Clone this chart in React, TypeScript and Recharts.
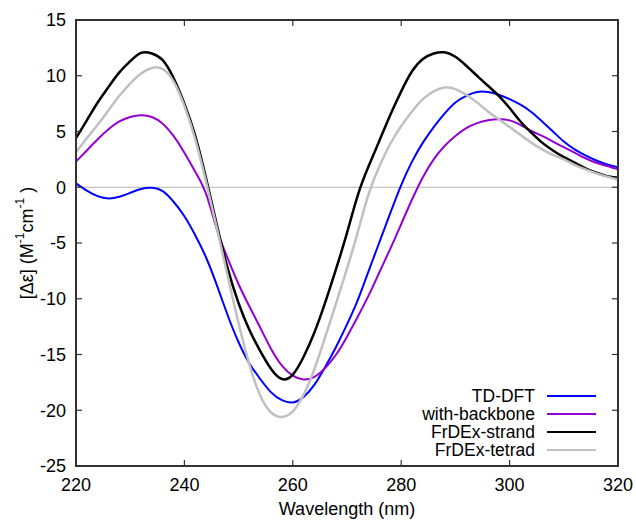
import React from 'react'
import {
  LineChart,
  Line,
  XAxis,
  YAxis,
  ReferenceLine,
  Legend,
} from 'recharts'

// wavelength grid (nm)
const wavelength = [
  220, 222, 224, 226, 228, 230, 232, 234, 236, 238, 240, 242, 244, 246, 248, 250, 252,
  254, 256, 258, 260, 262, 264, 266, 268, 270, 272, 274, 276, 278, 280, 282, 284, 286,
  288, 290, 292, 294, 296, 298, 300, 302, 304, 306, 308, 310, 312, 314, 316, 318, 320,
]

const tdDft = [
  0.35, -0.3, -0.8, -1.0, -0.85, -0.5, -0.15, -0.05, -0.35, -1.3, -2.6, -4.3, -6.3, -8.8,
  -11.5, -13.9, -15.8, -17.2, -18.4, -19.1, -19.3, -18.8, -17.7, -16.1, -14.3, -12.3,
  -10.1, -7.5, -4.9, -2.3, 0.2, 2.3, 4.0, 5.4, 6.6, 7.6, 8.2, 8.55, 8.55, 8.3, 7.9, 7.4,
  6.75, 5.9, 5.0, 4.1, 3.4, 2.85, 2.4, 2.05, 1.8,
]

const withBackbone = [
  2.3, 3.3, 4.3, 5.2, 5.9, 6.3, 6.45, 6.3, 5.7, 4.6, 3.1, 1.4, -0.6, -3.8, -6.4, -8.7,
  -10.7, -12.6, -14.5, -16.0, -16.9, -17.25, -17.0, -16.2, -15.0, -13.4, -11.6, -9.7,
  -7.6, -5.5, -3.3, -1.1, 0.9, 2.5, 3.7, 4.6, 5.3, 5.75, 6.0, 6.1, 6.0, 5.6, 5.05, 4.6,
  4.1, 3.6, 3.1, 2.6, 2.2, 1.9, 1.6,
]

const frdexStrand = [
  4.4, 6.0, 7.6, 9.0, 10.3, 11.3, 12.05, 12.0, 11.4, 9.8, 7.5, 4.6, 0.8, -3.4, -7.3,
  -10.4, -12.8, -14.7, -16.3, -17.2, -16.8, -15.2, -13.0, -10.3, -7.3, -4.1, -0.7, 1.9,
  4.2, 6.5, 8.6, 10.4, 11.5, 12.0, 12.1, 11.7, 10.9, 10.0, 9.1, 8.2, 7.1, 5.9, 4.9, 4.0,
  3.3, 2.7, 2.2, 1.7, 1.3, 1.0, 0.85,
]

const frdexTetrad = [
  3.15, 4.4, 5.6, 6.9, 8.2, 9.3, 10.2, 10.7, 10.6, 9.5, 7.3, 4.3, 0.5, -3.7, -8.0, -12.2,
  -15.9, -18.7, -20.2, -20.6, -20.1, -18.6, -16.3, -13.4, -10.4, -7.3, -4.0, -0.6, 1.9,
  3.9, 5.5, 6.8, 7.9, 8.6, 8.95, 8.8, 8.3, 7.6, 6.8, 6.1, 5.4, 4.7, 4.0, 3.4, 2.9, 2.5,
  2.0, 1.6, 1.25, 0.95, 0.7,
]

const xTicks = [220, 240, 260, 280, 300, 320]
const yTicks = [-25, -20, -15, -10, -5, 0, 5, 10, 15]
const X_MIN = 220
const X_MAX = 320
const Y_MIN = -25
const Y_MAX = 15

const series = [
  { key: 'tdDft', name: 'TD-DFT', color: '#0000ff', width: 2 },
  { key: 'withBackbone', name: 'with-backbone', color: '#9400d3', width: 2 },
  { key: 'frdexStrand', name: 'FrDEx-strand', color: '#000000', width: 2.5 },
  { key: 'frdexTetrad', name: 'FrDEx-tetrad', color: '#c0c0c0', width: 2.5 },
]

const data = wavelength.map((w, i) => ({
  w,
  tdDft: tdDft[i],
  withBackbone: withBackbone[i],
  frdexStrand: frdexStrand[i],
  frdexTetrad: frdexTetrad[i],
}))

const W = 636
const H = 520
const margin = { top: 20, right: 18, left: 10, bottom: 24 }
const yAxisW = 66
const xAxisH = 30
const plotL = margin.left + yAxisW
const plotT = margin.top
const plotW = W - margin.left - margin.right - yAxisW
const plotH = H - margin.top - margin.bottom - xAxisH
const TICK = 6

const FONT = '"Liberation Sans", Arial, sans-serif'
const FRAME = '#333333'
const tickStyle = { fontSize: 18, fill: '#000', fontFamily: FONT }

const YLabel = (props: any) => {
  const vb = props.viewBox || { y: 20, height: 446 }
  const cx = 27
  const cy = vb.y + vb.height / 2
  return (
    <text
      x={cx}
      y={cy}
      transform={`rotate(-90 ${cx} ${cy})`}
      textAnchor="middle"
      dominantBaseline="central"
      fontSize={18}
      fontFamily={FONT}
      fill="#000"
    >
      <tspan>[Δε] (M</tspan>
      <tspan dy={-7} fontSize={12}>-1</tspan>
      <tspan dy={7}>cm</tspan>
      <tspan dy={-7} fontSize={12}>-1</tspan>
      <tspan dy={7}> )</tspan>
    </text>
  )
}

const XLabel = (props: any) => {
  const vb = props.viewBox || { x: 76, width: 542 }
  return (
    <text
      x={vb.x + vb.width / 2}
      y={515}
      textAnchor="middle"
      fontSize={18}
      fontFamily={FONT}
      fill="#000"
    >
      Wavelength (nm)
    </text>
  )
}

const renderLegend = () => (
  <div style={{ fontFamily: FONT, fontSize: 17.5, lineHeight: '18px', color: '#000' }}>
    {series.map((s) => (
      <div key={s.key} style={{ display: 'flex', alignItems: 'center', height: 18 }}>
        <span style={{ width: 235, textAlign: 'right', whiteSpace: 'nowrap' }}>{s.name}</span>
        <span
          style={{
            display: 'inline-block',
            marginLeft: 12,
            width: 49,
            height: s.width,
            background: s.color,
          }}
        />
      </div>
    ))}
  </div>
)

// box frame (css border) plus mirrored inward ticks, gnuplot style
const Frame = () => {
  const px = (t: number) => plotL + ((t - X_MIN) / (X_MAX - X_MIN)) * plotW
  const py = (t: number) => plotT + ((Y_MAX - t) / (Y_MAX - Y_MIN)) * plotH
  const bottom = plotT + plotH
  const right = plotL + plotW
  return (
    <>
      <div
        style={{
          position: 'absolute',
          left: plotL - 1,
          top: plotT - 1,
          width: plotW + 2,
          height: plotH + 2,
          border: `2px solid ${FRAME}`,
          boxSizing: 'border-box',
          pointerEvents: 'none',
        }}
      />
      <svg
        width={W}
        height={H}
        style={{ position: 'absolute', left: 0, top: 0, pointerEvents: 'none' }}
      >
        {xTicks.map((t) => (
          <g key={`x${t}`} stroke={FRAME} strokeWidth={1.2}>
            <line x1={px(t)} x2={px(t)} y1={bottom} y2={bottom - TICK} />
            <line x1={px(t)} x2={px(t)} y1={plotT} y2={plotT + TICK} />
          </g>
        ))}
        {yTicks.map((t) => (
          <g key={`y${t}`} stroke={FRAME} strokeWidth={1.2}>
            <line x1={plotL} x2={plotL + TICK} y1={py(t)} y2={py(t)} />
            <line x1={right} x2={right - TICK} y1={py(t)} y2={py(t)} />
          </g>
        ))}
      </svg>
    </>
  )
}

export default function App() {
  return (
    <div style={{ position: 'absolute', left: 0, top: 0, width: W, height: H, background: '#fff' }}>
      <LineChart width={W} height={H} data={data} margin={margin}>
        <XAxis
          dataKey="w"
          type="number"
          domain={[X_MIN, X_MAX]}
          ticks={xTicks}
          height={xAxisH}
          stroke={FRAME}
          axisLine={{ stroke: FRAME, strokeWidth: 1.5 }}
          tickLine={false}
          tickSize={0}
          tickMargin={12}
          tick={tickStyle}
          label={{ content: XLabel }}
        />
        <YAxis
          type="number"
          domain={[Y_MIN, Y_MAX]}
          ticks={yTicks}
          width={yAxisW}
          stroke={FRAME}
          axisLine={{ stroke: FRAME, strokeWidth: 1.5 }}
          tickLine={false}
          tickSize={0}
          tickMargin={10}
          tick={tickStyle}
          label={{ content: YLabel }}
        />
        <ReferenceLine y={0} stroke="#b4b4b4" strokeWidth={1} />
        {series.map((s) => (
          <Line
            key={s.key}
            dataKey={s.key}
            name={s.name}
            type="natural"
            stroke={s.color}
            strokeWidth={s.width}
            dot={false}
            activeDot={false}
            isAnimationActive={false}
          />
        ))}
        <Legend
          layout="vertical"
          align="center"
          verticalAlign="middle"
          content={renderLegend}
          wrapperStyle={{ position: 'absolute', left: 300, top: 387, width: 300, height: 72 }}
        />
      </LineChart>
      <Frame />
    </div>
  )
}
